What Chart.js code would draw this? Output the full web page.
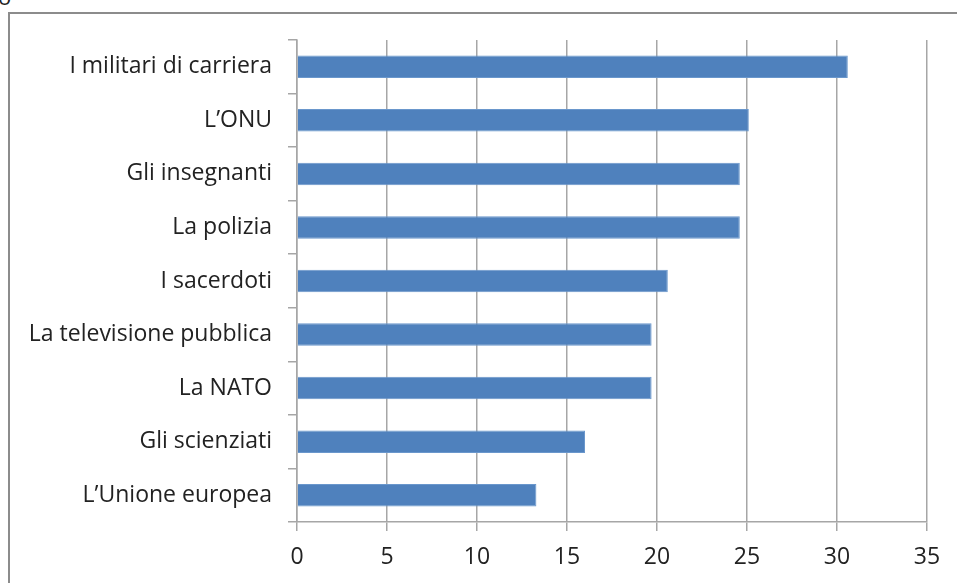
<!DOCTYPE html>
<html>
<head>
<meta charset="utf-8">
<script src="https://cdn.jsdelivr.net/npm/chart.js@4.4.1/dist/chart.umd.min.js"></script>
<style>
  html, body { margin: 0; padding: 0; background: #fff; overflow: hidden; }
  #frame {
    position: absolute; left: 8px; top: 12px; width: 960px; height: 600px;
    border: 2px solid #8c8c8c; box-sizing: border-box;
  }
  #corner {
    position: absolute; left: -2px; top: -19px; font: 22px "Open Sans", sans-serif; color: #222;
  }
  #wrap { position: absolute; left: 0; top: 0; width: 957px; height: 583px; }
</style>
</head>
<body>
<div id="corner">o</div>
<div id="frame"></div>
<div id="wrap"><canvas id="chart"></canvas></div>
<script>
// Fiducia nelle istituzioni (%)

var categories = [
  'I militari di carriera',
  'L\u2019ONU',
  'Gli insegnanti',
  'La polizia',
  'I sacerdoti',
  'La televisione pubblica',
  'La NATO',
  'Gli scienziati',
  'L\u2019Unione europea'
];
var values = [30.6, 25.1, 24.6, 24.6, 20.6, 19.7, 19.7, 16.0, 13.3];
var xTicks = [0, 5, 10, 15, 20, 25, 30, 35];

var gridColor = '#a6a6a6';
var fontSpec = { family: '"Open Sans", sans-serif', size: 23 };

var ctx = document.getElementById('chart').getContext('2d');
new Chart(ctx, {
  type: 'bar',
  data: {
    labels: categories,
    datasets: [{
      data: values,
      backgroundColor: '#4f81bd',
      borderColor: '#6a97cc',
      borderWidth: 1,
      categoryPercentage: 1,
      barPercentage: 0.42
    }]
  },
  options: {
    indexAxis: 'y',
    responsive: true,
    maintainAspectRatio: false,
    animation: false,
    layout: { padding: { top: 40, right: 30, left: 0, bottom: 0 } },
    plugins: { legend: { display: false }, tooltip: { enabled: false } },
    scales: {
      x: {
        min: 0,
        max: 35,
        afterBuildTicks: function (scale) {
          scale.ticks = xTicks.map(function (v) { return { value: v }; });
        },
        afterFit: function (scale) { scale.height = 61; },
        grid: { color: gridColor, lineWidth: 1.5, tickLength: 9 },
        border: { color: gridColor, width: 1.5 },
        ticks: { color: '#222', font: fontSpec, padding: 13, maxRotation: 0 }
      },
      y: {
        afterFit: function (scale) { scale.width = 297; },
        grid: { display: true, drawOnChartArea: false, offset: true, color: gridColor, lineWidth: 1.5, tickLength: 9 },
        border: { color: gridColor, width: 1.5 },
        ticks: { color: '#222', font: fontSpec, padding: 16 }
      }
    }
  }
});
</script>
</body>
</html>
